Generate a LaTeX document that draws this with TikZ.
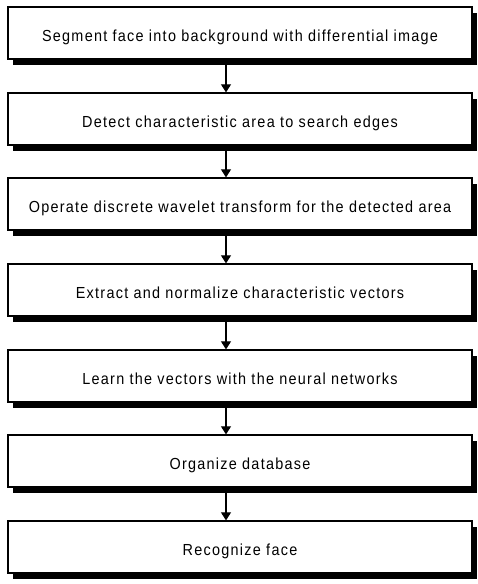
\documentclass[tikz,border=0pt]{standalone}
\usepackage{fontspec}
\setmainfont[FakeStretch=0.9,LetterSpace=8]{Liberation Sans}
\usetikzlibrary{shadows,arrows.meta}
\tikzset{
  stepbox/.style={draw=black, line width=1.3pt, fill=white,
    minimum width=464pt, minimum height=52pt, inner sep=0pt,
    text depth=0pt, font=\fontsize{16}{18}\selectfont,
    drop shadow={shadow xshift=5pt, shadow yshift=-6pt, fill=black, opacity=1}},
  flowarrow/.style={line width=1.1pt, -{Triangle[width=10pt,length=8pt]}}
}
\begin{document}
\begin{tikzpicture}
\useasboundingbox (0,0) rectangle (477pt,-584pt);
\coordinate (ax) at (226pt,0pt);
\node[stepbox] (b1) at (240pt,-33pt)  {\raisebox{-6pt}{Segment face into background with differential image}};
\node[stepbox] (b2) at (240pt,-119pt) {\raisebox{-6pt}{Detect characteristic area to search edges}};
\node[stepbox] (b3) at (240pt,-204pt) {\raisebox{-6pt}{Operate discrete wavelet transform for the detected area}};
\node[stepbox] (b4) at (240pt,-290pt) {\raisebox{-6pt}{Extract and normalize characteristic vectors}};
\node[stepbox] (b5) at (240pt,-376pt) {\raisebox{-6pt}{Learn the vectors with the neural networks}};
\node[stepbox] (b6) at (240pt,-461pt) {\raisebox{-6pt}{Organize database}};
\node[stepbox] (b7) at (240pt,-547pt) {\raisebox{-6pt}{Recognize face}};
\foreach \a/\b in {b1/b2,b2/b3,b3/b4,b4/b5,b5/b6,b6/b7}
  \draw[flowarrow] (\a.south -| ax) -- (\b.north -| ax);
\end{tikzpicture}
\end{document}
